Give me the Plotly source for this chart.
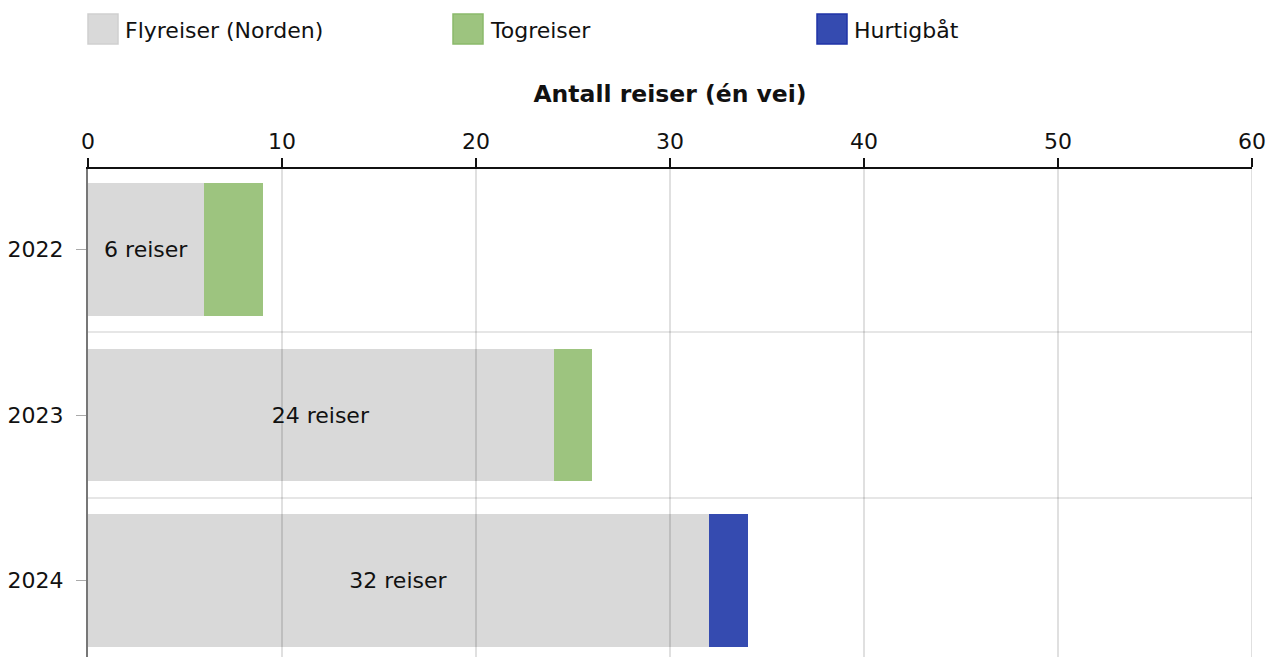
import plotly.graph_objects as go

years = ["2022", "2023", "2024"]
fly = [6, 24, 32]
tog = [3, 2, 0]
hurtigbat = [0, 0, 2]
fly_labels = ["6 reiser", "24 reiser", "32 reiser"]

series = [
    ("Flyreiser (Norden)", fly, "#d9d9d9", "#cfcfcf"),
    ("Togreiser", tog, "#9dc47f", "#8bb96b"),
    ("Hurtigbåt", hurtigbat, "#354bb0", "#1f33a6"),
]

FONT = "DejaVu Sans, Verdana, sans-serif"
ypos = list(range(len(years)))

W, H = 1266, 657
ML, MR, MT = 88, 14, 169
PW, PH = W - ML - MR, H - MT
BAND = 165.5  # pixels per category
y_top = -0.5 + 2.25 / BAND

fig = go.Figure()
for name, vals, color, edge in series:
    fig.add_trace(go.Bar(
        y=ypos, x=vals, orientation="h", name=name,
        marker=dict(color=color, line=dict(width=0)),
        text=fly_labels if name.startswith("Fly") else None,
        textposition="inside", insidetextanchor="middle",
        textfont=dict(color="#111111", size=22, family=FONT),
        showlegend=False,
    ))

# gridlines drawn above the bars, like in the reference
for v in range(10, 61, 10):
    fig.add_shape(type="line", xref="x", yref="paper", x0=v, x1=v, y0=0, y1=1,
                  line=dict(color="rgba(0,0,0,0.12)", width=2), layer="above")

# custom legend with big squares (pixel offsets from the plot's top-left)
legend_x = [0, 365, 729]
for (name, vals, color, edge), lx in zip(series, legend_x):
    fig.add_shape(type="rect", xref="paper", yref="paper",
                  x0=lx / PW, x1=(lx + 30) / PW, y0=1 + 125 / PH, y1=1 + 155 / PH,
                  fillcolor=color, line=dict(color=edge, width=1.5))
    fig.add_annotation(xref="paper", yref="paper", x=(lx + 35) / PW, y=1 + 139 / PH,
                       text=name, showarrow=False, xanchor="left", yanchor="middle",
                       font=dict(size=22, family=FONT, color="#111111"))

fig.update_layout(
    width=W, height=H,
    margin=dict(l=ML, r=MR, t=MT, b=0, autoexpand=False),
    barmode="stack", bargap=0.2,
    plot_bgcolor="white", paper_bgcolor="white",
    font=dict(family=FONT, size=22, color="#111111"),
    xaxis=dict(
        side="top", range=[0, 60], dtick=10, automargin=False,
        showgrid=False, zeroline=False,
        showline=True, linecolor="#111111", linewidth=2,
        ticks="outside", ticklen=9, tickwidth=2, tickcolor="#111111",
        title=dict(text="<b>Antall reiser (én vei)</b>", font=dict(size=23.5), standoff=20),
    ),
    yaxis=dict(
        range=[y_top + PH / BAND, y_top], tickvals=ypos, ticktext=years, automargin=False,
        showgrid=False, zeroline=False,
        showline=True, linecolor="#777777", linewidth=2,
        ticks="outside", ticklen=10, tickwidth=1, tickcolor="#aaaaaa",
        ticklabelstandoff=8,
        minor=dict(tickvals=[0.5, 1.5], showgrid=True, gridcolor="#e6e6e6", gridwidth=2, ticks=""),
    ),
)

# no body margin / scrollbars, so the figure fills the window exactly
fig.write_html("out.html", config={"displayModeBar": False},
               post_script="document.body.style.margin='0';document.body.style.overflow='hidden';")
